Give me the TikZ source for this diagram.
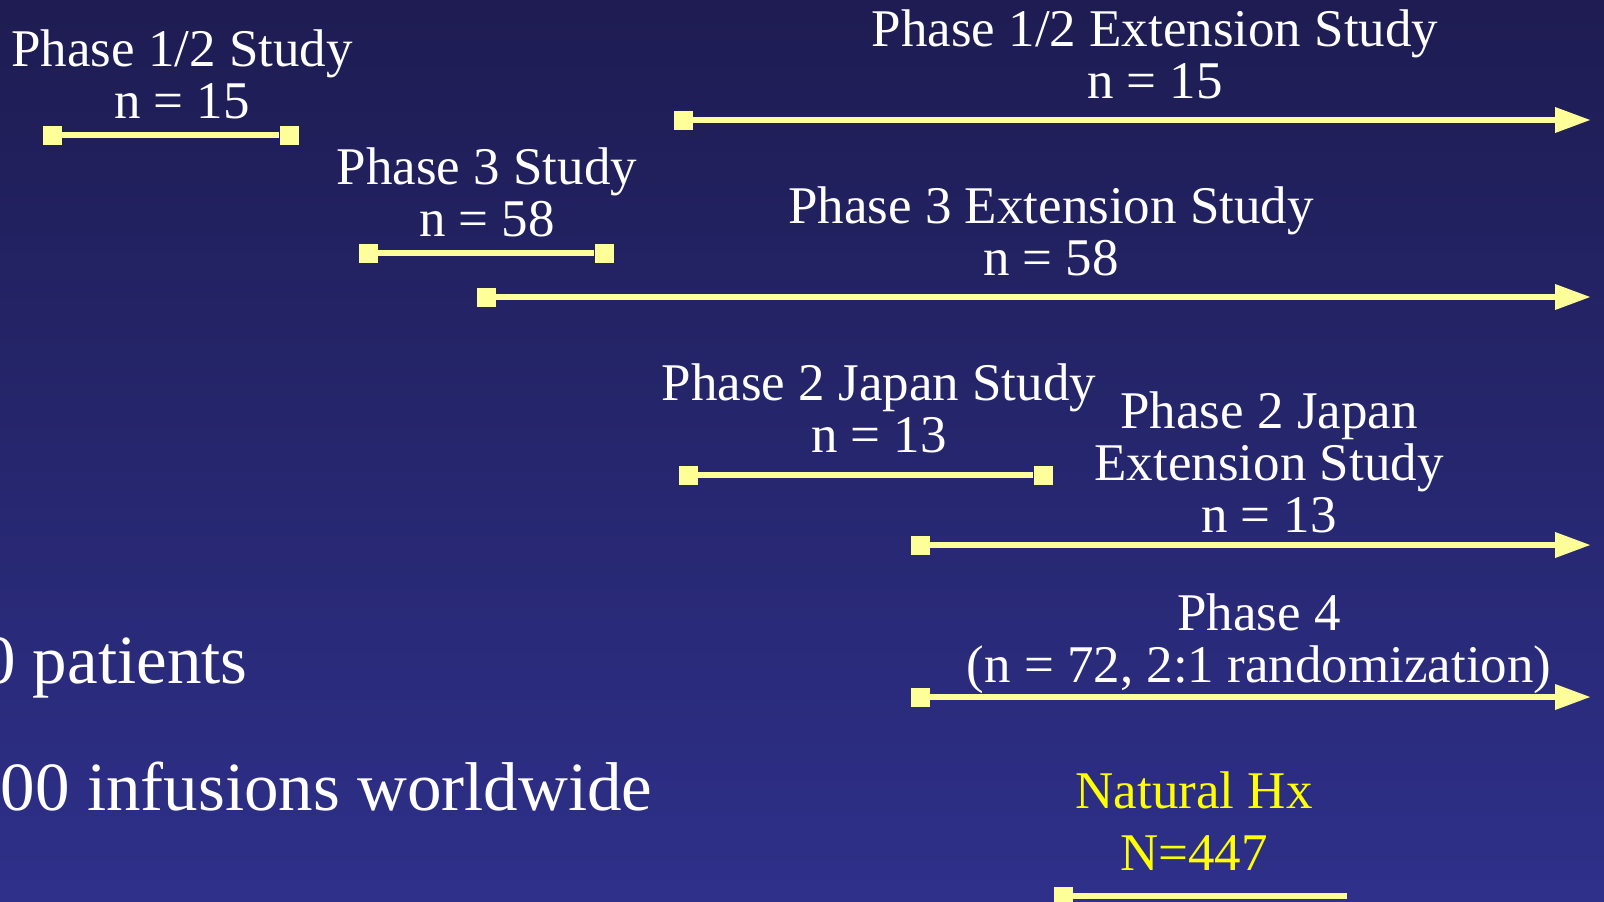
\documentclass[tikz,border=0pt]{standalone}
\usepackage{fontspec}
\setmainfont{Liberation Serif}
\usetikzlibrary{arrows.meta}
\definecolor{bgtop}{RGB}{30,28,82}
\definecolor{bgbot}{RGB}{46,48,138}
\definecolor{barcol}{RGB}{255,255,153}
\definecolor{hxcol}{RGB}{255,255,0}
\tikzset{
  lbl/.style={text=white,font=\fontsize{26.5}{26}\selectfont,align=center,inner sep=0pt,anchor=base},
  biglbl/.style={text=white,font=\fontsize{34.5}{40}\selectfont,inner sep=0pt,anchor=base east},
  bar/.style={draw=barcol,line width=3.3pt},
  endsq/.style={fill=barcol,minimum size=9.5pt,inner sep=0pt}
}
\begin{document}
\begin{tikzpicture}[x=0.5pt,y=-0.5pt]
\useasboundingbox (0,0) rectangle (1604,901);
\shade[top color=bgtop,bottom color=bgbot] (0,0) rectangle (1604,901);

% studies with a fixed end
\foreach \nm/\xa/\xb/\yy in {a/52/289/135,c/368/604/253,e/688/1043/475} {
  \node[endsq] (\nm1) at (\xa,\yy) {};
  \node[endsq] (\nm2) at (\xb,\yy) {};
  \draw[bar] (\nm1) -- (\nm2);
}

% extension studies, still running
\foreach \nm/\xa/\yy in {b/683/120,d/486/297,f/920/545,g/920/697} {
  \node[endsq] (\nm1) at (\xa,\yy) {};
  \coordinate (\nm2) at (1591,\yy);
  \draw[bar,-{Triangle[length=18pt,width=12pt]}] (\nm1) -- (\nm2);
}

\node[endsq] (h1) at (1063,896) {};
\coordinate (h2) at (1347,896);
\draw[bar] (h1) -- (h2);

% labels, anchored on the last line
\node[lbl] (p12) at (182,118) {Phase 1/2 Study\\n = 15};
\node[lbl] (p12x) at (1155,98) {Phase 1/2 Extension Study\\n = 15};
\node[lbl] (p3) at (487,236) {Phase 3 Study\\n = 58};
\node[lbl] (p3x) at (1051,275) {Phase 3 Extension Study\\n = 58};
\node[lbl] (pj) at (879,452) {Phase 2 Japan Study\\n = 13};
\node[lbl] (pjx) at (1269,532) {Phase 2 Japan\\Extension Study\\n = 13};
\node[lbl] (p4) at (1259,682) {Phase 4\\(n = 72, 2:1 randomization)};
\node[lbl,text=hxcol] (nhx) at (1194,870) {Natural Hx\\[5pt]N=447};

\node[biglbl] (pat) at (248,683) {0 patients};
\node[biglbl] (inf) at (653,810) {00 infusions worldwide};
\end{tikzpicture}
\end{document}
